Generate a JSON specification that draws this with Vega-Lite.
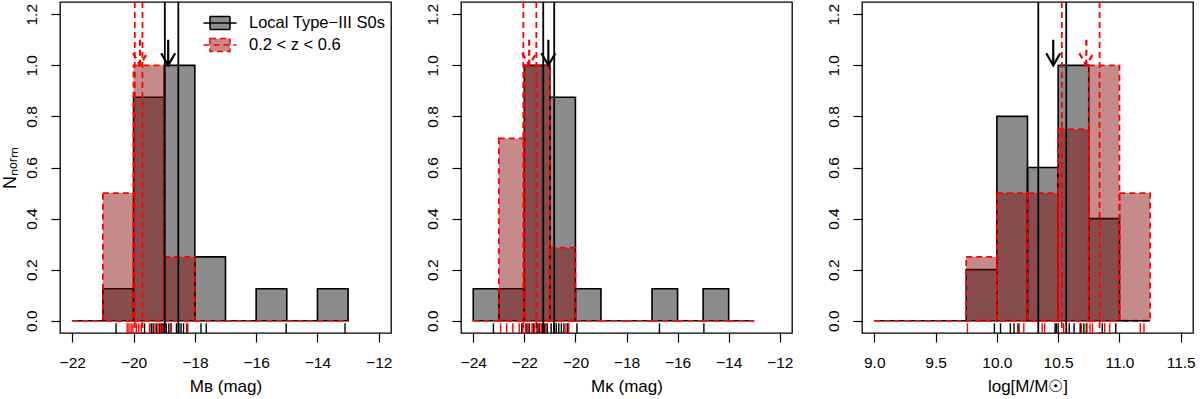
{
  "$schema": "https://vega.github.io/schema/vega-lite/v6.json",
  "background": "white",
  "padding": {"left": 0, "top": 0, "right": 2, "bottom": 2},
  "bounds": "flush",
  "spacing": 70,
  "datasets": {
    "hist": [
      {"p": "B", "s": "Local Type−III S0s", "v": -22, "v2": -21, "n": 0},
      {"p": "B", "s": "Local Type−III S0s", "v": -21, "v2": -20, "n": 0.125},
      {"p": "B", "s": "Local Type−III S0s", "v": -20, "v2": -19, "n": 0.875},
      {"p": "B", "s": "Local Type−III S0s", "v": -19, "v2": -18, "n": 1},
      {"p": "B", "s": "Local Type−III S0s", "v": -18, "v2": -17, "n": 0.25},
      {"p": "B", "s": "Local Type−III S0s", "v": -17, "v2": -16, "n": 0},
      {"p": "B", "s": "Local Type−III S0s", "v": -16, "v2": -15, "n": 0.125},
      {"p": "B", "s": "Local Type−III S0s", "v": -15, "v2": -14, "n": 0},
      {"p": "B", "s": "Local Type−III S0s", "v": -14, "v2": -13, "n": 0.125},
      {"p": "B", "s": "0.2 < z < 0.6", "v": -22, "v2": -21, "n": 0},
      {"p": "B", "s": "0.2 < z < 0.6", "v": -21, "v2": -20, "n": 0.5},
      {"p": "B", "s": "0.2 < z < 0.6", "v": -20, "v2": -19, "n": 1},
      {"p": "B", "s": "0.2 < z < 0.6", "v": -19, "v2": -18, "n": 0.25},
      {"p": "B", "s": "0.2 < z < 0.6", "v": -18, "v2": -17, "n": 0},
      {"p": "B", "s": "0.2 < z < 0.6", "v": -17, "v2": -16, "n": 0},
      {"p": "B", "s": "0.2 < z < 0.6", "v": -16, "v2": -15, "n": 0},
      {"p": "B", "s": "0.2 < z < 0.6", "v": -15, "v2": -14, "n": 0},
      {"p": "B", "s": "0.2 < z < 0.6", "v": -14, "v2": -13, "n": 0},
      {"p": "K", "s": "Local Type−III S0s", "v": -24, "v2": -23, "n": 0.125},
      {"p": "K", "s": "Local Type−III S0s", "v": -23, "v2": -22, "n": 0.125},
      {"p": "K", "s": "Local Type−III S0s", "v": -22, "v2": -21, "n": 1},
      {"p": "K", "s": "Local Type−III S0s", "v": -21, "v2": -20, "n": 0.875},
      {"p": "K", "s": "Local Type−III S0s", "v": -20, "v2": -19, "n": 0.125},
      {"p": "K", "s": "Local Type−III S0s", "v": -19, "v2": -18, "n": 0},
      {"p": "K", "s": "Local Type−III S0s", "v": -18, "v2": -17, "n": 0},
      {"p": "K", "s": "Local Type−III S0s", "v": -17, "v2": -16, "n": 0.125},
      {"p": "K", "s": "Local Type−III S0s", "v": -16, "v2": -15, "n": 0},
      {"p": "K", "s": "Local Type−III S0s", "v": -15, "v2": -14, "n": 0.125},
      {"p": "K", "s": "Local Type−III S0s", "v": -14, "v2": -13, "n": 0},
      {"p": "K", "s": "0.2 < z < 0.6", "v": -24, "v2": -23, "n": 0},
      {"p": "K", "s": "0.2 < z < 0.6", "v": -23, "v2": -22, "n": 0.714},
      {"p": "K", "s": "0.2 < z < 0.6", "v": -22, "v2": -21, "n": 1},
      {"p": "K", "s": "0.2 < z < 0.6", "v": -21, "v2": -20, "n": 0.286},
      {"p": "K", "s": "0.2 < z < 0.6", "v": -20, "v2": -19, "n": 0},
      {"p": "K", "s": "0.2 < z < 0.6", "v": -19, "v2": -18, "n": 0},
      {"p": "K", "s": "0.2 < z < 0.6", "v": -18, "v2": -17, "n": 0},
      {"p": "K", "s": "0.2 < z < 0.6", "v": -17, "v2": -16, "n": 0},
      {"p": "K", "s": "0.2 < z < 0.6", "v": -16, "v2": -15, "n": 0},
      {"p": "K", "s": "0.2 < z < 0.6", "v": -15, "v2": -14, "n": 0},
      {"p": "K", "s": "0.2 < z < 0.6", "v": -14, "v2": -13, "n": 0},
      {"p": "M", "s": "Local Type−III S0s", "v": 9.0, "v2": 9.25, "n": 0},
      {"p": "M", "s": "Local Type−III S0s", "v": 9.25, "v2": 9.5, "n": 0},
      {"p": "M", "s": "Local Type−III S0s", "v": 9.5, "v2": 9.75, "n": 0},
      {"p": "M", "s": "Local Type−III S0s", "v": 9.75, "v2": 10.0, "n": 0.2},
      {"p": "M", "s": "Local Type−III S0s", "v": 10.0, "v2": 10.25, "n": 0.8},
      {"p": "M", "s": "Local Type−III S0s", "v": 10.25, "v2": 10.5, "n": 0.6},
      {"p": "M", "s": "Local Type−III S0s", "v": 10.5, "v2": 10.75, "n": 1},
      {"p": "M", "s": "Local Type−III S0s", "v": 10.75, "v2": 11.0, "n": 0.4},
      {"p": "M", "s": "Local Type−III S0s", "v": 11.0, "v2": 11.25, "n": 0},
      {"p": "M", "s": "0.2 < z < 0.6", "v": 9.0, "v2": 9.25, "n": 0},
      {"p": "M", "s": "0.2 < z < 0.6", "v": 9.25, "v2": 9.5, "n": 0},
      {"p": "M", "s": "0.2 < z < 0.6", "v": 9.5, "v2": 9.75, "n": 0},
      {"p": "M", "s": "0.2 < z < 0.6", "v": 9.75, "v2": 10.0, "n": 0.25},
      {"p": "M", "s": "0.2 < z < 0.6", "v": 10.0, "v2": 10.25, "n": 0.5},
      {"p": "M", "s": "0.2 < z < 0.6", "v": 10.25, "v2": 10.5, "n": 0.5},
      {"p": "M", "s": "0.2 < z < 0.6", "v": 10.5, "v2": 10.75, "n": 0.75},
      {"p": "M", "s": "0.2 < z < 0.6", "v": 10.75, "v2": 11.0, "n": 1},
      {"p": "M", "s": "0.2 < z < 0.6", "v": 11.0, "v2": 11.25, "n": 0.5}
    ],
    "vl": [
      {"p": "B", "s": "Local Type−III S0s", "v": -18.98},
      {"p": "B", "s": "Local Type−III S0s", "v": -18.54},
      {"p": "B", "s": "0.2 < z < 0.6", "v": -19.96},
      {"p": "B", "s": "0.2 < z < 0.6", "v": -19.71},
      {"p": "K", "s": "Local Type−III S0s", "v": -21.26},
      {"p": "K", "s": "Local Type−III S0s", "v": -20.83},
      {"p": "K", "s": "0.2 < z < 0.6", "v": -22.04},
      {"p": "K", "s": "0.2 < z < 0.6", "v": -21.53},
      {"p": "M", "s": "Local Type−III S0s", "v": 10.338},
      {"p": "M", "s": "Local Type−III S0s", "v": 10.566},
      {"p": "M", "s": "0.2 < z < 0.6", "v": 10.53},
      {"p": "M", "s": "0.2 < z < 0.6", "v": 10.838}
    ],
    "ar": [
      {"p": "B", "s": "Local Type−III S0s", "v": -18.87},
      {"p": "B", "s": "0.2 < z < 0.6", "v": -19.79},
      {"p": "K", "s": "Local Type−III S0s", "v": -21.06},
      {"p": "K", "s": "0.2 < z < 0.6", "v": -21.81},
      {"p": "M", "s": "Local Type−III S0s", "v": 10.46},
      {"p": "M", "s": "0.2 < z < 0.6", "v": 10.73}
    ],
    "rug": [
      {"p": "B", "s": "Local Type−III S0s", "v": -20.57},
      {"p": "B", "s": "Local Type−III S0s", "v": -19.64},
      {"p": "B", "s": "Local Type−III S0s", "v": -19.42},
      {"p": "B", "s": "Local Type−III S0s", "v": -19.36},
      {"p": "B", "s": "Local Type−III S0s", "v": -19.25},
      {"p": "B", "s": "Local Type−III S0s", "v": -19.15},
      {"p": "B", "s": "Local Type−III S0s", "v": -19.08},
      {"p": "B", "s": "Local Type−III S0s", "v": -19.03},
      {"p": "B", "s": "Local Type−III S0s", "v": -18.93},
      {"p": "B", "s": "Local Type−III S0s", "v": -18.85},
      {"p": "B", "s": "Local Type−III S0s", "v": -18.78},
      {"p": "B", "s": "Local Type−III S0s", "v": -18.6},
      {"p": "B", "s": "Local Type−III S0s", "v": -18.52},
      {"p": "B", "s": "Local Type−III S0s", "v": -18.45},
      {"p": "B", "s": "Local Type−III S0s", "v": -18.37},
      {"p": "B", "s": "Local Type−III S0s", "v": -18.26},
      {"p": "B", "s": "Local Type−III S0s", "v": -17.8},
      {"p": "B", "s": "Local Type−III S0s", "v": -17.63},
      {"p": "B", "s": "Local Type−III S0s", "v": -15.02},
      {"p": "B", "s": "Local Type−III S0s", "v": -13.1},
      {"p": "B", "s": "0.2 < z < 0.6", "v": -20.21},
      {"p": "B", "s": "0.2 < z < 0.6", "v": -20.15},
      {"p": "B", "s": "0.2 < z < 0.6", "v": -20.08},
      {"p": "B", "s": "0.2 < z < 0.6", "v": -20.02},
      {"p": "B", "s": "0.2 < z < 0.6", "v": -19.91},
      {"p": "B", "s": "0.2 < z < 0.6", "v": -19.83},
      {"p": "B", "s": "0.2 < z < 0.6", "v": -19.75},
      {"p": "B", "s": "0.2 < z < 0.6", "v": -19.48},
      {"p": "B", "s": "0.2 < z < 0.6", "v": -19.3},
      {"p": "B", "s": "0.2 < z < 0.6", "v": -19.2},
      {"p": "B", "s": "0.2 < z < 0.6", "v": -19.12},
      {"p": "B", "s": "0.2 < z < 0.6", "v": -19.05},
      {"p": "B", "s": "0.2 < z < 0.6", "v": -18.77},
      {"p": "B", "s": "0.2 < z < 0.6", "v": -18.23},
      {"p": "K", "s": "Local Type−III S0s", "v": -23.21},
      {"p": "K", "s": "Local Type−III S0s", "v": -22.1},
      {"p": "K", "s": "Local Type−III S0s", "v": -21.9},
      {"p": "K", "s": "Local Type−III S0s", "v": -21.8},
      {"p": "K", "s": "Local Type−III S0s", "v": -21.65},
      {"p": "K", "s": "Local Type−III S0s", "v": -21.5},
      {"p": "K", "s": "Local Type−III S0s", "v": -21.4},
      {"p": "K", "s": "Local Type−III S0s", "v": -21.3},
      {"p": "K", "s": "Local Type−III S0s", "v": -21.2},
      {"p": "K", "s": "Local Type−III S0s", "v": -21.1},
      {"p": "K", "s": "Local Type−III S0s", "v": -20.95},
      {"p": "K", "s": "Local Type−III S0s", "v": -20.85},
      {"p": "K", "s": "Local Type−III S0s", "v": -20.75},
      {"p": "K", "s": "Local Type−III S0s", "v": -20.65},
      {"p": "K", "s": "Local Type−III S0s", "v": -20.55},
      {"p": "K", "s": "Local Type−III S0s", "v": -20.45},
      {"p": "K", "s": "Local Type−III S0s", "v": -20.3},
      {"p": "K", "s": "Local Type−III S0s", "v": -19.94},
      {"p": "K", "s": "Local Type−III S0s", "v": -16.71},
      {"p": "K", "s": "Local Type−III S0s", "v": -14.97},
      {"p": "K", "s": "0.2 < z < 0.6", "v": -22.93},
      {"p": "K", "s": "0.2 < z < 0.6", "v": -22.69},
      {"p": "K", "s": "0.2 < z < 0.6", "v": -22.45},
      {"p": "K", "s": "0.2 < z < 0.6", "v": -22.2},
      {"p": "K", "s": "0.2 < z < 0.6", "v": -22.06},
      {"p": "K", "s": "0.2 < z < 0.6", "v": -21.95},
      {"p": "K", "s": "0.2 < z < 0.6", "v": -21.85},
      {"p": "K", "s": "0.2 < z < 0.6", "v": -21.7},
      {"p": "K", "s": "0.2 < z < 0.6", "v": -21.6},
      {"p": "K", "s": "0.2 < z < 0.6", "v": -21.45},
      {"p": "K", "s": "0.2 < z < 0.6", "v": -21.33},
      {"p": "K", "s": "0.2 < z < 0.6", "v": -21.15},
      {"p": "K", "s": "0.2 < z < 0.6", "v": -20.37},
      {"p": "K", "s": "0.2 < z < 0.6", "v": -20.26},
      {"p": "M", "s": "Local Type−III S0s", "v": 9.98},
      {"p": "M", "s": "Local Type−III S0s", "v": 10.03},
      {"p": "M", "s": "Local Type−III S0s", "v": 10.11},
      {"p": "M", "s": "Local Type−III S0s", "v": 10.14},
      {"p": "M", "s": "Local Type−III S0s", "v": 10.18},
      {"p": "M", "s": "Local Type−III S0s", "v": 10.475},
      {"p": "M", "s": "Local Type−III S0s", "v": 10.485},
      {"p": "M", "s": "Local Type−III S0s", "v": 10.5},
      {"p": "M", "s": "Local Type−III S0s", "v": 10.59},
      {"p": "M", "s": "Local Type−III S0s", "v": 10.63},
      {"p": "M", "s": "Local Type−III S0s", "v": 10.68},
      {"p": "M", "s": "Local Type−III S0s", "v": 10.71},
      {"p": "M", "s": "Local Type−III S0s", "v": 10.73},
      {"p": "M", "s": "Local Type−III S0s", "v": 10.86},
      {"p": "M", "s": "Local Type−III S0s", "v": 10.97},
      {"p": "M", "s": "0.2 < z < 0.6", "v": 9.76},
      {"p": "M", "s": "0.2 < z < 0.6", "v": 10.17},
      {"p": "M", "s": "0.2 < z < 0.6", "v": 10.22},
      {"p": "M", "s": "0.2 < z < 0.6", "v": 10.37},
      {"p": "M", "s": "0.2 < z < 0.6", "v": 10.39},
      {"p": "M", "s": "0.2 < z < 0.6", "v": 10.545},
      {"p": "M", "s": "0.2 < z < 0.6", "v": 10.69},
      {"p": "M", "s": "0.2 < z < 0.6", "v": 10.735},
      {"p": "M", "s": "0.2 < z < 0.6", "v": 10.76},
      {"p": "M", "s": "0.2 < z < 0.6", "v": 10.78},
      {"p": "M", "s": "0.2 < z < 0.6", "v": 10.88},
      {"p": "M", "s": "0.2 < z < 0.6", "v": 10.92},
      {"p": "M", "s": "0.2 < z < 0.6", "v": 11.17},
      {"p": "M", "s": "0.2 < z < 0.6", "v": 11.2}
    ]
  },
  "hconcat": [
    {
      "width": 331, "height": 331,
      "encoding": {"x": {"field": "v", "type": "quantitative", "scale": {"domain": [-22.4, -11.6], "nice": false, "zero": false}, "axis": {"values": [-22, -20, -18, -16, -14, -12], "title": "Mʙ (mag)"}}},
      "layer": [
        {"data": {"name": "hist"}, "transform": [{"filter": "datum.p == 'B' && datum.n > 0 && datum.s == 'Local Type−III S0s'"}],
         "mark": {"type": "rect", "strokeWidth": 1.6},
         "encoding": {
           "x2": {"field": "v2"},
           "y": {"field": "n", "type": "quantitative", "scale": {"domain": [-0.048, 1.248], "nice": false, "zero": false}, "axis": {"values": [0, 0.2, 0.4, 0.6, 0.8, 1, 1.2], "format": ".1f", "title": "Nₙₒᵣₘ"}},
           "y2": {"datum": 0},
           "fill": {"field": "s", "type": "nominal", "scale": {"domain": ["Local Type−III S0s", "0.2 < z < 0.6"], "range": ["rgba(0,0,0,0.45)", "rgba(128,0,0,0.46)"]}, "legend": {"title": null, "orient": "none", "legendX": 149, "legendY": 10}},
           "stroke": {"field": "s", "type": "nominal", "scale": {"domain": ["Local Type−III S0s", "0.2 < z < 0.6"], "range": ["#000000", "#ff0000"]}, "legend": {"title": null, "orient": "none", "legendX": 149, "legendY": 10}},
           "strokeDash": {"field": "s", "type": "nominal", "scale": {"domain": ["Local Type−III S0s", "0.2 < z < 0.6"], "range": [[1, 0], [6, 4]]}, "legend": {"title": null, "orient": "none", "legendX": 149, "legendY": 10}}
         }},
        {"data": {"name": "hist"}, "transform": [{"filter": "datum.p == 'B' && datum.n > 0 && datum.s != 'Local Type−III S0s'"}],
         "mark": {"type": "rect", "strokeWidth": 1.8, "strokeDash": [6, 4], "fill": "rgba(128,0,0,0.46)", "stroke": "#ff0000"},
         "encoding": {"x2": {"field": "v2"}, "y": {"field": "n", "type": "quantitative", "scale": {"domain": [-0.048, 1.248], "nice": false, "zero": false}}, "y2": {"datum": 0}}},
        {"data": {"name": "hist"}, "transform": [{"filter": "datum.p == 'B' && datum.n == 0"}],
         "mark": {"type": "rule", "strokeWidth": 1.7},
         "encoding": {
           "x2": {"field": "v2"}, "y": {"datum": 0, "type": "quantitative", "scale": {"domain": [-0.048, 1.248], "nice": false, "zero": false}},
           "stroke": {"field": "s", "type": "nominal", "scale": {"domain": ["Local Type−III S0s", "0.2 < z < 0.6"], "range": ["#000000", "#ff0000"]}, "legend": null},
           "strokeDash": {"field": "s", "type": "nominal", "scale": {"domain": ["Local Type−III S0s", "0.2 < z < 0.6"], "range": [[1, 0], [6, 4]]}, "legend": null}
         }},
        {"data": {"name": "vl"}, "transform": [{"filter": "datum.p == 'B'"}],
         "mark": {"type": "rule", "strokeWidth": 1.8},
         "encoding": {
           "stroke": {"field": "s", "type": "nominal", "scale": {"domain": ["Local Type−III S0s", "0.2 < z < 0.6"], "range": ["#000000", "#ff0000"]}, "legend": null},
           "strokeDash": {"field": "s", "type": "nominal", "scale": {"domain": ["Local Type−III S0s", "0.2 < z < 0.6"], "range": [[1, 0], [6, 4]]}, "legend": null}
         }},
        {"data": {"name": "ar"}, "transform": [{"filter": "datum.p == 'B'"}],
         "mark": {"type": "rule", "strokeWidth": 2.2},
         "encoding": {
           "y": {"datum": 1.1, "type": "quantitative"}, "y2": {"datum": 1.0},
           "stroke": {"field": "s", "type": "nominal", "scale": {"domain": ["Local Type−III S0s", "0.2 < z < 0.6"], "range": ["#000000", "#ff0000"]}, "legend": null},
           "strokeDash": {"field": "s", "type": "nominal", "scale": {"domain": ["Local Type−III S0s", "0.2 < z < 0.6"], "range": [[1, 0], [6, 4]]}, "legend": null}
         }},
        {"data": {"name": "ar"}, "transform": [{"filter": "datum.p == 'B'"}],
         "mark": {"type": "point", "shape": "M-1,-1.732L0,0L1,-1.732", "size": 196, "filled": false, "strokeWidth": 2.2, "opacity": 1},
         "encoding": {
           "y": {"datum": 1.0, "type": "quantitative"},
           "stroke": {"field": "s", "type": "nominal", "scale": {"domain": ["Local Type−III S0s", "0.2 < z < 0.6"], "range": ["#000000", "#ff0000"]}, "legend": null},
           "strokeDash": {"field": "s", "type": "nominal", "scale": {"domain": ["Local Type−III S0s", "0.2 < z < 0.6"], "range": [[1, 0], [4, 3]]}, "legend": null}
         }},
        {"data": {"name": "rug"}, "transform": [{"filter": "datum.p == 'B'"}],
         "mark": {"type": "rule", "strokeWidth": 1.4},
         "encoding": {
           "y": {"datum": -0.048, "type": "quantitative"}, "y2": {"datum": -0.01},
           "stroke": {"field": "s", "type": "nominal", "scale": {"domain": ["Local Type−III S0s", "0.2 < z < 0.6"], "range": ["#000000", "#ff0000"]}, "legend": null}
         }}
      ]
    },
    {
      "width": 331, "height": 331,
      "encoding": {"x": {"field": "v", "type": "quantitative", "scale": {"domain": [-24.48, -11.52], "nice": false, "zero": false}, "axis": {"values": [-24, -22, -20, -18, -16, -14, -12], "title": "Mᴋ (mag)"}}},
      "layer": [
        {"data": {"name": "hist"}, "transform": [{"filter": "datum.p == 'K' && datum.n > 0 && datum.s == 'Local Type−III S0s'"}],
         "mark": {"type": "rect", "strokeWidth": 1.6, "fill": "rgba(0,0,0,0.45)", "stroke": "#000000"},
         "encoding": {
           "x2": {"field": "v2"},
           "y": {"field": "n", "type": "quantitative", "scale": {"domain": [-0.048, 1.248], "nice": false, "zero": false}, "axis": {"values": [0, 0.2, 0.4, 0.6, 0.8, 1, 1.2], "format": ".1f", "title": null}},
           "y2": {"datum": 0}
         }},
        {"data": {"name": "hist"}, "transform": [{"filter": "datum.p == 'K' && datum.n > 0 && datum.s != 'Local Type−III S0s'"}],
         "mark": {"type": "rect", "strokeWidth": 1.8, "strokeDash": [6, 4], "fill": "rgba(128,0,0,0.46)", "stroke": "#ff0000"},
         "encoding": {"x2": {"field": "v2"}, "y": {"field": "n", "type": "quantitative", "scale": {"domain": [-0.048, 1.248], "nice": false, "zero": false}}, "y2": {"datum": 0}}},
        {"data": {"name": "hist"}, "transform": [{"filter": "datum.p == 'K' && datum.n == 0"}],
         "mark": {"type": "rule", "strokeWidth": 1.7},
         "encoding": {
           "x2": {"field": "v2"}, "y": {"datum": 0, "type": "quantitative", "scale": {"domain": [-0.048, 1.248], "nice": false, "zero": false}},
           "stroke": {"field": "s", "type": "nominal", "scale": {"domain": ["Local Type−III S0s", "0.2 < z < 0.6"], "range": ["#000000", "#ff0000"]}, "legend": null},
           "strokeDash": {"field": "s", "type": "nominal", "scale": {"domain": ["Local Type−III S0s", "0.2 < z < 0.6"], "range": [[1, 0], [6, 4]]}, "legend": null}
         }},
        {"data": {"name": "vl"}, "transform": [{"filter": "datum.p == 'K'"}],
         "mark": {"type": "rule", "strokeWidth": 1.8},
         "encoding": {
           "stroke": {"field": "s", "type": "nominal", "scale": {"domain": ["Local Type−III S0s", "0.2 < z < 0.6"], "range": ["#000000", "#ff0000"]}, "legend": null},
           "strokeDash": {"field": "s", "type": "nominal", "scale": {"domain": ["Local Type−III S0s", "0.2 < z < 0.6"], "range": [[1, 0], [6, 4]]}, "legend": null}
         }},
        {"data": {"name": "ar"}, "transform": [{"filter": "datum.p == 'K'"}],
         "mark": {"type": "rule", "strokeWidth": 2.2},
         "encoding": {
           "y": {"datum": 1.1, "type": "quantitative"}, "y2": {"datum": 1.0},
           "stroke": {"field": "s", "type": "nominal", "scale": {"domain": ["Local Type−III S0s", "0.2 < z < 0.6"], "range": ["#000000", "#ff0000"]}, "legend": null},
           "strokeDash": {"field": "s", "type": "nominal", "scale": {"domain": ["Local Type−III S0s", "0.2 < z < 0.6"], "range": [[1, 0], [6, 4]]}, "legend": null}
         }},
        {"data": {"name": "ar"}, "transform": [{"filter": "datum.p == 'K'"}],
         "mark": {"type": "point", "shape": "M-1,-1.732L0,0L1,-1.732", "size": 196, "filled": false, "strokeWidth": 2.2, "opacity": 1},
         "encoding": {
           "y": {"datum": 1.0, "type": "quantitative"},
           "stroke": {"field": "s", "type": "nominal", "scale": {"domain": ["Local Type−III S0s", "0.2 < z < 0.6"], "range": ["#000000", "#ff0000"]}, "legend": null},
           "strokeDash": {"field": "s", "type": "nominal", "scale": {"domain": ["Local Type−III S0s", "0.2 < z < 0.6"], "range": [[1, 0], [4, 3]]}, "legend": null}
         }},
        {"data": {"name": "rug"}, "transform": [{"filter": "datum.p == 'K'"}],
         "mark": {"type": "rule", "strokeWidth": 1.4},
         "encoding": {
           "y": {"datum": -0.048, "type": "quantitative"}, "y2": {"datum": -0.01},
           "stroke": {"field": "s", "type": "nominal", "scale": {"domain": ["Local Type−III S0s", "0.2 < z < 0.6"], "range": ["#000000", "#ff0000"]}, "legend": null}
         }}
      ]
    },
    {
      "width": 331, "height": 331,
      "encoding": {"x": {"field": "v", "type": "quantitative", "scale": {"domain": [8.9, 11.6], "nice": false, "zero": false}, "axis": {"values": [9, 9.5, 10, 10.5, 11, 11.5], "format": ".1f", "title": "log[M/M☉]"}}},
      "layer": [
        {"data": {"name": "hist"}, "transform": [{"filter": "datum.p == 'M' && datum.n > 0 && datum.s == 'Local Type−III S0s'"}],
         "mark": {"type": "rect", "strokeWidth": 1.6, "fill": "rgba(0,0,0,0.45)", "stroke": "#000000"},
         "encoding": {
           "x2": {"field": "v2"},
           "y": {"field": "n", "type": "quantitative", "scale": {"domain": [-0.048, 1.248], "nice": false, "zero": false}, "axis": {"values": [0, 0.2, 0.4, 0.6, 0.8, 1, 1.2], "format": ".1f", "title": null}},
           "y2": {"datum": 0}
         }},
        {"data": {"name": "hist"}, "transform": [{"filter": "datum.p == 'M' && datum.n > 0 && datum.s != 'Local Type−III S0s'"}],
         "mark": {"type": "rect", "strokeWidth": 1.8, "strokeDash": [6, 4], "fill": "rgba(128,0,0,0.46)", "stroke": "#ff0000"},
         "encoding": {"x2": {"field": "v2"}, "y": {"field": "n", "type": "quantitative", "scale": {"domain": [-0.048, 1.248], "nice": false, "zero": false}}, "y2": {"datum": 0}}},
        {"data": {"name": "hist"}, "transform": [{"filter": "datum.p == 'M' && datum.n == 0"}],
         "mark": {"type": "rule", "strokeWidth": 1.7},
         "encoding": {
           "x2": {"field": "v2"}, "y": {"datum": 0, "type": "quantitative", "scale": {"domain": [-0.048, 1.248], "nice": false, "zero": false}},
           "stroke": {"field": "s", "type": "nominal", "scale": {"domain": ["Local Type−III S0s", "0.2 < z < 0.6"], "range": ["#000000", "#ff0000"]}, "legend": null},
           "strokeDash": {"field": "s", "type": "nominal", "scale": {"domain": ["Local Type−III S0s", "0.2 < z < 0.6"], "range": [[1, 0], [6, 4]]}, "legend": null}
         }},
        {"data": {"name": "vl"}, "transform": [{"filter": "datum.p == 'M'"}],
         "mark": {"type": "rule", "strokeWidth": 1.8},
         "encoding": {
           "stroke": {"field": "s", "type": "nominal", "scale": {"domain": ["Local Type−III S0s", "0.2 < z < 0.6"], "range": ["#000000", "#ff0000"]}, "legend": null},
           "strokeDash": {"field": "s", "type": "nominal", "scale": {"domain": ["Local Type−III S0s", "0.2 < z < 0.6"], "range": [[1, 0], [6, 4]]}, "legend": null}
         }},
        {"data": {"name": "ar"}, "transform": [{"filter": "datum.p == 'M'"}],
         "mark": {"type": "rule", "strokeWidth": 2.2},
         "encoding": {
           "y": {"datum": 1.1, "type": "quantitative"}, "y2": {"datum": 1.0},
           "stroke": {"field": "s", "type": "nominal", "scale": {"domain": ["Local Type−III S0s", "0.2 < z < 0.6"], "range": ["#000000", "#ff0000"]}, "legend": null},
           "strokeDash": {"field": "s", "type": "nominal", "scale": {"domain": ["Local Type−III S0s", "0.2 < z < 0.6"], "range": [[1, 0], [6, 4]]}, "legend": null}
         }},
        {"data": {"name": "ar"}, "transform": [{"filter": "datum.p == 'M'"}],
         "mark": {"type": "point", "shape": "M-1,-1.732L0,0L1,-1.732", "size": 196, "filled": false, "strokeWidth": 2.2, "opacity": 1},
         "encoding": {
           "y": {"datum": 1.0, "type": "quantitative"},
           "stroke": {"field": "s", "type": "nominal", "scale": {"domain": ["Local Type−III S0s", "0.2 < z < 0.6"], "range": ["#000000", "#ff0000"]}, "legend": null},
           "strokeDash": {"field": "s", "type": "nominal", "scale": {"domain": ["Local Type−III S0s", "0.2 < z < 0.6"], "range": [[1, 0], [4, 3]]}, "legend": null}
         }},
        {"data": {"name": "rug"}, "transform": [{"filter": "datum.p == 'M'"}],
         "mark": {"type": "rule", "strokeWidth": 1.4},
         "encoding": {
           "y": {"datum": -0.048, "type": "quantitative"}, "y2": {"datum": -0.01},
           "stroke": {"field": "s", "type": "nominal", "scale": {"domain": ["Local Type−III S0s", "0.2 < z < 0.6"], "range": ["#000000", "#ff0000"]}, "legend": null}
         }}
      ]
    }
  ],
  "resolve": {"scale": {"fill": "independent", "stroke": "independent", "strokeDash": "independent"}},
  "config": {
    "font": "Liberation Sans",
    "view": {"stroke": "black", "strokeWidth": 1.3},
    "axis": {"domain": false, "grid": false, "ticks": true, "tickColor": "black", "tickSize": 9, "tickWidth": 1.2,
             "labelFont": "Liberation Sans", "labelFontSize": 15.5, "labelColor": "black",
             "titleFont": "Liberation Sans", "titleFontSize": 17, "titleFontWeight": "normal", "titleColor": "black"},
    "axisX": {"labelPadding": 13, "titlePadding": 8, "labelAngle": 0},
    "axisY": {"labelAngle": -90, "labelAlign": "center", "labelBaseline": "bottom", "labelPadding": 12, "titlePadding": 5, "titleFontSize": 18},
    "legend": {"padding": 0, "labelFont": "Liberation Sans", "labelFontSize": 16.5, "labelColor": "black",
               "symbolSize": 400, "symbolType": "M-1.65,0H1.65M-1,-0.65H1V0.65H-1Z", "symbolStrokeWidth": 1.5,
               "rowPadding": 1, "labelOffset": 18}
  }
}
